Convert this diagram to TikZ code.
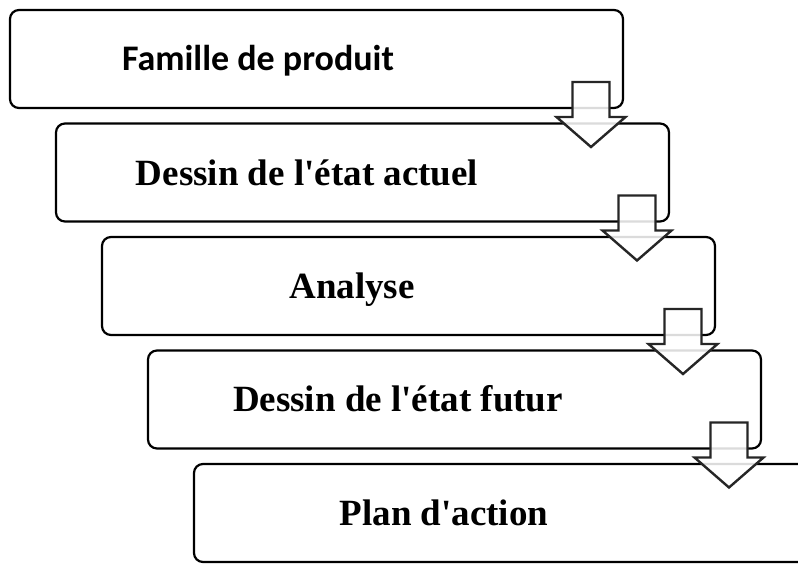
\documentclass[tikz,border=0pt]{standalone}
\usepackage{fontspec}
\setmainfont{Liberation Serif}
\newfontfamily\calibrifont{Carlito}
\usetikzlibrary{calc}
\begin{document}
\begin{tikzpicture}[x=1pt,y=-1pt,
  stage/.style={draw=black, line width=2.2pt, rounded corners=9pt,
    minimum width=613pt, minimum height=98pt, inner sep=0pt, outer sep=0pt,
    anchor=north west, fill=white},
  stagetext/.style={font=\bfseries\fontsize{37}{41}\selectfont, anchor=base, inner sep=0pt},
  flow/.style={draw=black!85, line width=2.4pt, fill=white, fill opacity=0.86, line join=miter}
]
\useasboundingbox (0,0) rectangle (798,563);
\clip (0,0) rectangle (798,563);

% the five stages, each shifted down and to the right
\node[stage] (b1) at (10,10) {};
\node[stage] (b2) at (56,123.5) {};
\node[stage] (b3) at (102,237) {};
\node[stage] (b4) at (148,350.5) {};
\node[stage] (b5) at (194,464) {};

\node[stagetext, font=\calibrifont\bfseries\fontsize{36}{40}\selectfont] (t1) at ($(b1.north west)+(248,60.5)$) {Famille de produit};
\node[stagetext] (t2) at ($(b2.north west)+(251,61.5)$) {Dessin de l\textquotesingle état actuel};
\node[stagetext] (t3) at ($(b3.north west)+(250,61)$) {Analyse};
\node[stagetext] (t4) at ($(b4.north west)+(250,60.5)$) {Dessin de l\textquotesingle état futur};
\node[stagetext] (t5) at ($(b5.north west)+(250,61)$) {Plan d\textquotesingle action};

% block arrows leading from each stage to the next
\foreach \i in {1,2,3,4}{
  \draw[flow] ($(b\i.south east)+(-50.5,-26)$) -- ++(37,0) -- ++(0,35) -- ++(16,0)
    -- ($(b\i.south east)+(-32,39)$) -- ($(b\i.south east)+(-66.5,9)$) -- ++(16,0) -- cycle;
}
\end{tikzpicture}
\end{document}
